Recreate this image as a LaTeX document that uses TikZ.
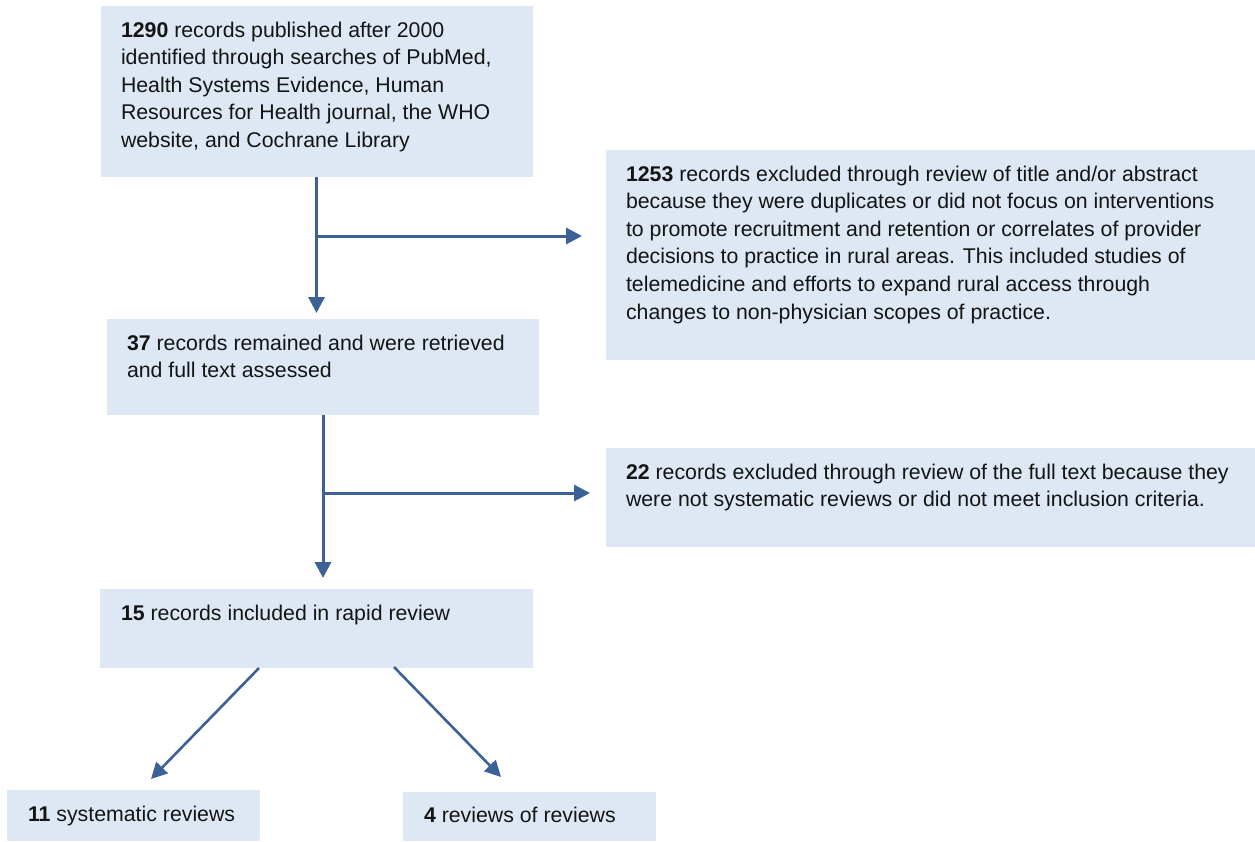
\documentclass[tikz,border=0pt]{standalone}
\usepackage{fontspec}
\setmainfont{Liberation Sans}
\usetikzlibrary{arrows.meta}
\definecolor{boxfill}{RGB}{222,232,244}
\definecolor{arrowc}{RGB}{59,97,150}
\definecolor{txtc}{RGB}{20,20,20}
\begin{document}
\begin{tikzpicture}[x=1pt,y=-1pt,
  box/.style={fill=boxfill, draw=none, inner sep=0pt, outer sep=0pt, anchor=north west, rectangle},
  txt/.style={anchor=north west, inner sep=0pt, outer sep=0pt, align=left, text=txtc,
    font=\fontsize{21.3pt}{27.6pt}\selectfont},
  arr/.style={draw=arrowc, line width=3pt, -{Triangle[length=16pt,width=16pt]}},
  darr/.style={draw=arrowc, line width=2.6pt, -{Triangle[length=16pt,width=16pt]}}]
\useasboundingbox (0,0) rectangle (1255,841);
% boxes
\node[box, minimum width=432pt, minimum height=171pt] (b1) at (101,6) {};
\node[box, minimum width=649pt, minimum height=210pt] (r1) at (606,150) {};
\node[box, minimum width=432pt, minimum height=96pt] (b2) at (107,319) {};
\node[box, minimum width=649pt, minimum height=99pt] (r2) at (606,448) {};
\node[box, minimum width=433pt, minimum height=79pt] (b3) at (100,589) {};
\node[box, minimum width=253pt, minimum height=51pt] (b11) at (7,790) {};
\node[box, minimum width=253pt, minimum height=49pt] (b4) at (403,792) {};
% texts
\node[txt] (t1) at (121,21.6) {\textbf{1290} records published after 2000\\identified through searches of PubMed,\\Health Systems Evidence, Human\\Resources for Health journal, the WHO\\website, and Cochrane Library};
\node[txt] (tr1) at (626,165.6) {\textbf{1253} records excluded through review of title and/or abstract\\because they were duplicates or did not focus on interventions\\to promote recruitment and retention or correlates of provider\\decisions to practice in rural areas. This included studies of\\telemedicine and efforts to expand rural access through\\changes to non-physician scopes of practice.};
\node[txt] (t2) at (127,334.6) {\textbf{37} records remained and were retrieved\\and full text assessed};
\node[txt] (tr2) at (626,463.6) {\textbf{22} records excluded through review of the full text because they\\were not systematic reviews or did not meet inclusion criteria.};
\node[txt] (t3) at (121,604.6) {\textbf{15} records included in rapid review};
\node[txt] (t11) at (28,805.8) {\textbf{11} systematic reviews};
\node[txt] (t4) at (424,807.4) {\textbf{4} reviews of reviews};
% connectors
\coordinate (j1) at (316.5,236);
\coordinate (j2) at (323,493);
\draw[arr] (b1.south -| j1) -- ([yshift=6pt]b2.north -| j1);
\draw[arr] (j1) -- ([xshift=-24pt]r1.west |- j1);
\draw[arr] (b2.south -| j2) -- ([yshift=11pt]b3.north -| j2);
\draw[arr] (j2) -- ([xshift=-16pt]r2.west |- j2);
\coordinate (d1a) at (259,668);
\coordinate (d1b) at (151,779);
\coordinate (d2a) at (394,667);
\coordinate (d2b) at (501,777);
\draw[darr] (d1a) -- (d1b);
\draw[darr] (d2a) -- (d2b);
\end{tikzpicture}
\end{document}
